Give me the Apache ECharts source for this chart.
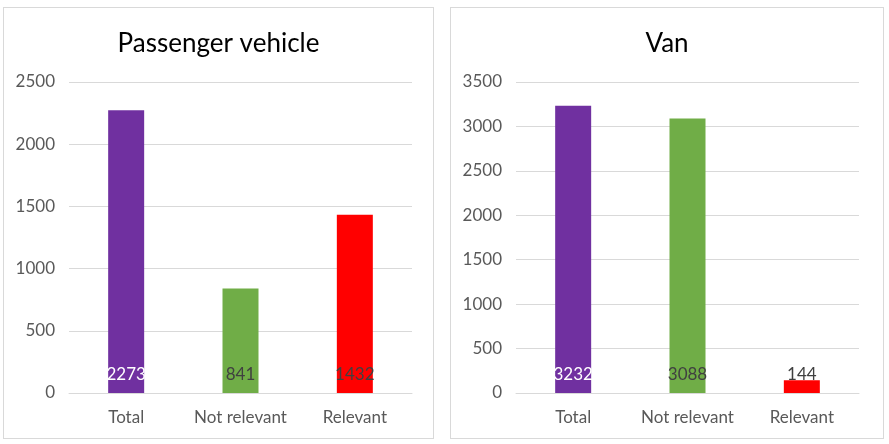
<!DOCTYPE html>
<html>
<head>
<meta charset="utf-8">
<script src="https://cdn.jsdelivr.net/npm/echarts@6/dist/echarts.min.js"></script>
<style>
body{margin:0;background:#fff;}
.box{position:absolute;top:7px;height:430px;border:1px solid #d9d9d9;background:#fff;}
</style>
</head>
<body>
<div id="main-chart" class="box" style="left:3px;width:429px;"></div>
<div id="main-chart1" class="box" style="left:450px;width:432px;"></div>
<script>
// 数据
var categories = ['Total', 'Not relevant', 'Relevant'];
var barColors = ['#7030A0', '#70AD47', '#FF0000'];
var labelColors = ['#ffffff', '#404040', '#404040'];
var passengerValues = [2273, 841, 1432];
var vanValues = [3232, 3088, 144];

function makeData(values){
	return values.map(function(v, i){
		return {
			value: v,
			itemStyle: {color: barColors[i]},
			label: {color: labelColors[i]}
		};
	});
}

function makeOption(title, values, max){
	return {
		backgroundColor:'#fff',
		animation: false,
		title: {
			text: title,
			left: 'center',
			top: 18,
			textStyle: {fontFamily:'Lato', fontSize:26, fontWeight:'normal', color:'#000'}
		},
		grid: {left:65, top:74, width:343, height:311},
		xAxis: {
			type: 'category',
			data: categories,
			axisLine: {lineStyle:{color:'#d9d9d9'}},
			axisTick: {show:false},
			axisLabel: {fontFamily:'Lato', fontSize:17, color:'#595959', margin:16,
				interval: 0, hideOverlap: false}
		},
		yAxis: {
			type: 'value',
			min: 0,
			max: max,
			interval: 500,
			axisLine: {show:false},
			axisTick: {show:false},
			splitLine: {lineStyle:{color:'#d9d9d9'}},
			axisLabel: {fontFamily:'Lato', fontSize:17, color:'#595959', margin:14,
				formatter: function(v){ return String(v); }}
		},
		series: [{
			type: 'bar',
			barWidth: 36,
			data: makeData(values),
			label: {
				show: true,
				position: 'insideBottom',
				distance: 10,
				fontFamily: 'Lato',
				fontSize: 17
			}
		}]
	};
}

var myChart = echarts.init(document.getElementById('main-chart'));
var myChart1 = echarts.init(document.getElementById('main-chart1'));
myChart.setOption(makeOption('Passenger vehicle', passengerValues, 2500));
myChart1.setOption(makeOption('Van', vanValues, 3500));
</script>
</body>
</html>
